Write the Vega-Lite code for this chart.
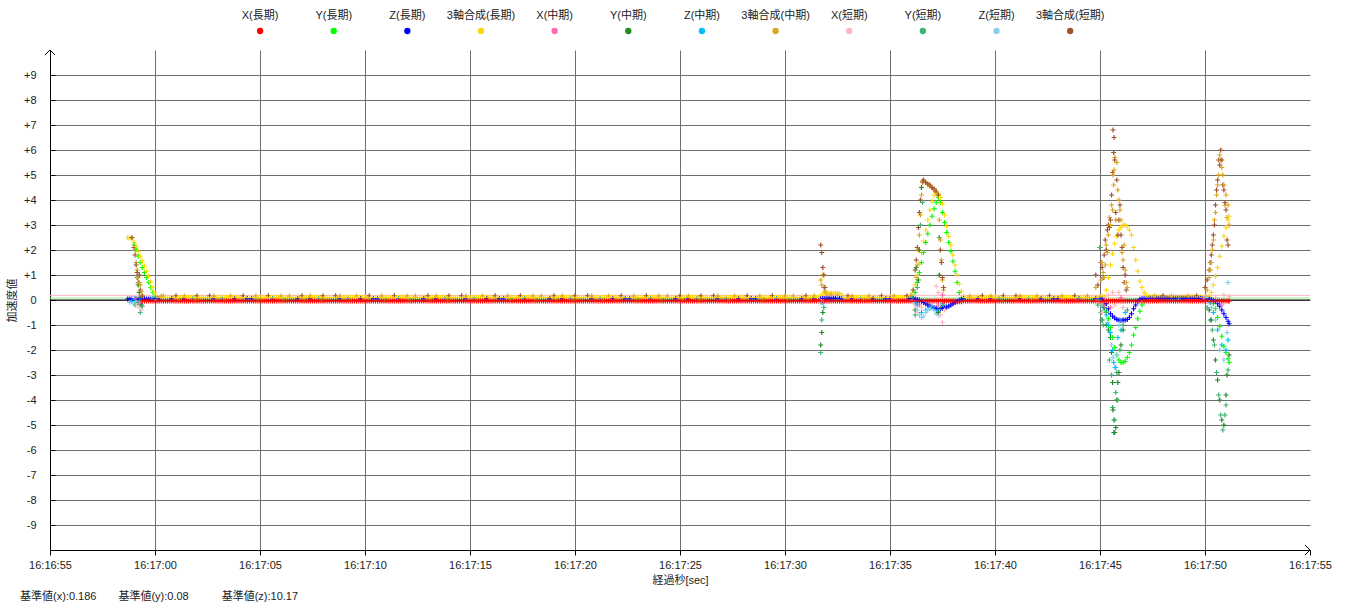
{
"$schema":"https://vega.github.io/schema/vega-lite/v6.json",
"autosize":{"type":"pad"},
"padding":{"left":6,"top":0,"right":10,"bottom":5},
"config":{"view":{"stroke":null},"font":"Liberation Sans, Noto Sans CJK JP","axis":{"labelFont":"Liberation Sans, Noto Sans CJK JP","titleFont":"Liberation Sans, Noto Sans CJK JP","labelOverlap":false},"title":{"font":"Liberation Sans, Noto Sans CJK JP"},"text":{"font":"Liberation Sans, Noto Sans CJK JP"}},
"spacing":0,
"bounds":"flush",
"center":true,
"title":{"text":"基準値(x):0.186　　基準値(y):0.08　　　基準値(z):10.17","orient":"bottom","anchor":"start","frame":"group","dx":-30,"offset":6,"fontSize":11,"fontWeight":"normal","color":"#222"},
"datasets":{
"leg":[
{"k":"a","name":"X(長期)"},
{"k":"b","name":"Y(長期)"},
{"k":"c","name":"Z(長期)"},
{"k":"d","name":"3軸合成(長期)"},
{"k":"e","name":"X(中期)"},
{"k":"f","name":"Y(中期)"},
{"k":"g","name":"Z(中期)"},
{"k":"h","name":"3軸合成(中期)"},
{"k":"i","name":"X(短期)"},
{"k":"j","name":"Y(短期)"},
{"k":"k","name":"Z(短期)"},
{"k":"l","name":"3軸合成(短期)"}
],
"pts":[
{"t":3.7,"c":0.04,"d":2.5},
{"t":3.8,"c":0.04,"d":2.48,"k":-0.1},
{"t":3.9,"c":0.04,"d":2.45,"l":2.5,"g":-0.05},
{"t":4.0,"b":2.2,"c":0.04,"d":2.3,"l":2.1,"k":-0.15,"i":0.1},
{"t":4.05,"l":1.8,"h":2.0,"g":0.05,"j":-0.2},
{"t":4.1,"b":2.0,"c":0.04,"d":2.15,"l":1.4,"h":1.5,"k":-0.05,"e":0.05},
{"t":4.15,"l":1.1,"h":1.2,"f":0.9,"i":-0.2},
{"t":4.2,"b":1.75,"c":0.04,"d":1.95,"l":0.7,"h":0.9,"f":0.6,"j":-0.1,"g":-0.1},
{"t":4.25,"l":1.0,"h":0.7,"f":0.3,"i":-0.3,"k":0.1},
{"t":4.3,"b":1.5,"c":0.04,"d":1.75,"l":0.4,"h":0.6,"j":-0.5,"f":0.1,"e":-0.15},
{"t":4.35,"h":0.35,"f":-0.2,"i":-0.4,"g":0.0},
{"t":4.4,"a":-0.04,"b":1.3,"c":0.04,"d":1.55,"h":0.2,"j":-0.25,"l":0.15},
{"t":4.5,"a":-0.04,"b":1.1,"c":0.04,"d":1.35},
{"t":4.6,"a":-0.04,"b":0.9,"c":0.04,"d":1.15},
{"t":4.7,"a":-0.04,"b":0.7,"c":0.04,"d":0.95},
{"t":4.8,"a":-0.04,"b":0.5,"c":0.04,"d":0.72},
{"t":4.9,"a":-0.04,"b":0.3,"c":0.04,"d":0.5,"g":0.05},
{"t":5.0,"a":-0.04,"b":0.1,"c":0.04,"d":0.3},
{"t":5.1,"a":-0.04,"b":0.02,"c":0.04,"d":0.12,"k":0.0},
{"t":5.2,"a":-0.04,"c":0.04,"d":0.1},
{"t":5.3,"a":-0.04,"d":0.1,"h":0.15},
{"t":5.4,"a":-0.04,"d":0.1,"h":0.16},{"t":5.5,"a":-0.04,"d":0.1},
{"t":5.6,"a":-0.04,"d":0.1},{"t":5.7,"a":-0.04,"d":0.1},
{"t":5.8,"a":-0.04,"d":0.11,"c":0.05},{"t":5.9,"a":-0.04,"d":0.1},
{"t":6,"a":-0.04,"d":0.1,"l":0.17},{"t":6.1,"a":-0.04,"d":0.1},
{"t":6.2,"a":-0.04,"d":0.09,"b":-0.01},{"t":6.3,"a":-0.04,"d":0.1},
{"t":6.4,"a":-0.04,"d":0.1,"h":0.16,"c":0.05},{"t":6.5,"a":-0.04,"d":0.1},
{"t":6.6,"a":-0.04,"d":0.1},{"t":6.7,"a":-0.04,"d":0.1},
{"t":6.8,"a":-0.04,"d":0.11,"g":0.05},{"t":6.9,"a":-0.04,"d":0.1},
{"t":7,"a":-0.04,"d":0.1,"l":0.17,"b":-0.01},{"t":7.1,"a":-0.04,"d":0.1},
{"t":7.2,"a":-0.04,"d":0.1},{"t":7.3,"a":-0.04,"d":0.1},
{"t":7.4,"a":-0.04,"d":0.1},{"t":7.5,"a":-0.04,"d":0.1},
{"t":7.6,"a":-0.04,"d":0.1,"l":0.17},{"t":7.7,"a":-0.04,"d":0.1},
{"t":7.8,"a":-0.04,"d":0.11,"c":0.05,"h":0.16},{"t":7.9,"a":-0.04,"d":0.1},
{"t":8,"a":-0.04,"d":0.1},{"t":8.1,"a":-0.04,"d":0.1},
{"t":8.2,"a":-0.04,"d":0.09,"g":0.05},{"t":8.3,"a":-0.04,"d":0.1},
{"t":8.4,"a":-0.04,"d":0.1,"b":-0.01},{"t":8.5,"a":-0.04,"d":0.1},
{"t":8.6,"a":-0.04,"d":0.1,"h":0.16},{"t":8.7,"a":-0.04,"d":0.1},
{"t":8.8,"a":-0.04,"d":0.11,"c":0.05},{"t":8.9,"a":-0.04,"d":0.1},
{"t":9,"a":-0.04,"d":0.1},{"t":9.1,"a":-0.04,"d":0.1},
{"t":9.2,"a":-0.04,"d":0.1,"l":0.17},{"t":9.3,"a":-0.04,"d":0.1},
{"t":9.4,"a":-0.04,"d":0.1,"c":0.05},{"t":9.5,"a":-0.04,"d":0.1},
{"t":9.6,"a":-0.04,"d":0.1,"c":0.05},{"t":9.7,"a":-0.04,"d":0.1},
{"t":9.8,"a":-0.04,"d":0.11,"h":0.16},{"t":9.9,"a":-0.04,"d":0.1},
{"t":10,"a":-0.04,"d":0.1,"b":-0.01},{"t":10.1,"a":-0.04,"d":0.1},
{"t":10.2,"a":-0.04,"d":0.09},{"t":10.3,"a":-0.04,"d":0.1},
{"t":10.4,"a":-0.04,"d":0.1,"l":0.17},{"t":10.5,"a":-0.04,"d":0.1},
{"t":10.6,"a":-0.04,"d":0.1,"g":0.05,"c":0.05},{"t":10.7,"a":-0.04,"d":0.1},
{"t":10.8,"a":-0.04,"d":0.11},{"t":10.9,"a":-0.04,"d":0.1},
{"t":11,"a":-0.04,"d":0.1,"h":0.16},{"t":11.1,"a":-0.04,"d":0.1},
{"t":11.2,"a":-0.04,"d":0.1,"b":-0.01},{"t":11.3,"a":-0.04,"d":0.1},
{"t":11.4,"a":-0.04,"d":0.1,"h":0.16},{"t":11.5,"a":-0.04,"d":0.1},
{"t":11.6,"a":-0.04,"d":0.1},{"t":11.7,"a":-0.04,"d":0.1},
{"t":11.8,"a":-0.04,"d":0.11,"c":0.05},{"t":11.9,"a":-0.04,"d":0.1},
{"t":12,"a":-0.04,"d":0.1,"l":0.17},{"t":12.1,"a":-0.04,"d":0.1},
{"t":12.2,"a":-0.04,"d":0.09,"b":-0.01},{"t":12.3,"a":-0.04,"d":0.1},
{"t":12.4,"a":-0.04,"d":0.1,"h":0.16,"c":0.05},{"t":12.5,"a":-0.04,"d":0.1},
{"t":12.6,"a":-0.04,"d":0.1},{"t":12.7,"a":-0.04,"d":0.1},
{"t":12.8,"a":-0.04,"d":0.11,"g":0.05},{"t":12.9,"a":-0.04,"d":0.1},
{"t":13,"a":-0.04,"d":0.1,"l":0.17,"b":-0.01},{"t":13.1,"a":-0.04,"d":0.1},
{"t":13.2,"a":-0.04,"d":0.1},{"t":13.3,"a":-0.04,"d":0.1},
{"t":13.4,"a":-0.04,"d":0.1},{"t":13.5,"a":-0.04,"d":0.1},
{"t":13.6,"a":-0.04,"d":0.1,"l":0.17},{"t":13.7,"a":-0.04,"d":0.1},
{"t":13.8,"a":-0.04,"d":0.11,"c":0.05,"h":0.16},{"t":13.9,"a":-0.04,"d":0.1},
{"t":14,"a":-0.04,"d":0.1},{"t":14.1,"a":-0.04,"d":0.1},
{"t":14.2,"a":-0.04,"d":0.09,"g":0.05},{"t":14.3,"a":-0.04,"d":0.1},
{"t":14.4,"a":-0.04,"d":0.1,"b":-0.01},{"t":14.5,"a":-0.04,"d":0.1},
{"t":14.6,"a":-0.04,"d":0.1,"h":0.16},{"t":14.7,"a":-0.04,"d":0.1},
{"t":14.8,"a":-0.04,"d":0.11,"c":0.05},{"t":14.9,"a":-0.04,"d":0.1},
{"t":15,"a":-0.04,"d":0.1},{"t":15.1,"a":-0.04,"d":0.1},
{"t":15.2,"a":-0.04,"d":0.1,"l":0.17},{"t":15.3,"a":-0.04,"d":0.1},
{"t":15.4,"a":-0.04,"d":0.1,"c":0.05},{"t":15.5,"a":-0.04,"d":0.1},
{"t":15.6,"a":-0.04,"d":0.1,"c":0.05},{"t":15.7,"a":-0.04,"d":0.1},
{"t":15.8,"a":-0.04,"d":0.11,"h":0.16},{"t":15.9,"a":-0.04,"d":0.1},
{"t":16,"a":-0.04,"d":0.1,"b":-0.01},{"t":16.1,"a":-0.04,"d":0.1},
{"t":16.2,"a":-0.04,"d":0.09},{"t":16.3,"a":-0.04,"d":0.1},
{"t":16.4,"a":-0.04,"d":0.1,"l":0.17},{"t":16.5,"a":-0.04,"d":0.1},
{"t":16.6,"a":-0.04,"d":0.1,"g":0.05,"c":0.05},{"t":16.7,"a":-0.04,"d":0.1},
{"t":16.8,"a":-0.04,"d":0.11},{"t":16.9,"a":-0.04,"d":0.1},
{"t":17,"a":-0.04,"d":0.1,"h":0.16},{"t":17.1,"a":-0.04,"d":0.1},
{"t":17.2,"a":-0.04,"d":0.1,"b":-0.01},{"t":17.3,"a":-0.04,"d":0.1},
{"t":17.4,"a":-0.04,"d":0.1,"h":0.16},{"t":17.5,"a":-0.04,"d":0.1},
{"t":17.6,"a":-0.04,"d":0.1},{"t":17.7,"a":-0.04,"d":0.1},
{"t":17.8,"a":-0.04,"d":0.11,"c":0.05},{"t":17.9,"a":-0.04,"d":0.1},
{"t":18,"a":-0.04,"d":0.1,"l":0.17},{"t":18.1,"a":-0.04,"d":0.1},
{"t":18.2,"a":-0.04,"d":0.09,"b":-0.01},{"t":18.3,"a":-0.04,"d":0.1},
{"t":18.4,"a":-0.04,"d":0.1,"h":0.16,"c":0.05},{"t":18.5,"a":-0.04,"d":0.1},
{"t":18.6,"a":-0.04,"d":0.1},{"t":18.7,"a":-0.04,"d":0.1},
{"t":18.8,"a":-0.04,"d":0.11,"g":0.05},{"t":18.9,"a":-0.04,"d":0.1},
{"t":19,"a":-0.04,"d":0.1,"l":0.17,"b":-0.01},{"t":19.1,"a":-0.04,"d":0.1},
{"t":19.2,"a":-0.04,"d":0.1},{"t":19.3,"a":-0.04,"d":0.1},
{"t":19.4,"a":-0.04,"d":0.1},{"t":19.5,"a":-0.04,"d":0.1},
{"t":19.6,"a":-0.04,"d":0.1,"l":0.17},{"t":19.7,"a":-0.04,"d":0.1},
{"t":19.8,"a":-0.04,"d":0.11,"c":0.05,"h":0.16},{"t":19.9,"a":-0.04,"d":0.1},
{"t":20,"a":-0.04,"d":0.1},{"t":20.1,"a":-0.04,"d":0.1},
{"t":20.2,"a":-0.04,"d":0.09,"g":0.05},{"t":20.3,"a":-0.04,"d":0.1},
{"t":20.4,"a":-0.04,"d":0.1,"b":-0.01},{"t":20.5,"a":-0.04,"d":0.1},
{"t":20.6,"a":-0.04,"d":0.1,"h":0.16},{"t":20.7,"a":-0.04,"d":0.1},
{"t":20.8,"a":-0.04,"d":0.11,"c":0.05},{"t":20.9,"a":-0.04,"d":0.1},
{"t":21,"a":-0.04,"d":0.1},{"t":21.1,"a":-0.04,"d":0.1},
{"t":21.2,"a":-0.04,"d":0.1,"l":0.17},{"t":21.3,"a":-0.04,"d":0.1},
{"t":21.4,"a":-0.04,"d":0.1,"c":0.05},{"t":21.5,"a":-0.04,"d":0.1},
{"t":21.6,"a":-0.04,"d":0.1,"c":0.05},{"t":21.7,"a":-0.04,"d":0.1},
{"t":21.8,"a":-0.04,"d":0.11,"h":0.16},{"t":21.9,"a":-0.04,"d":0.1},
{"t":22,"a":-0.04,"d":0.1,"b":-0.01},{"t":22.1,"a":-0.04,"d":0.1},
{"t":22.2,"a":-0.04,"d":0.09},{"t":22.3,"a":-0.04,"d":0.1},
{"t":22.4,"a":-0.04,"d":0.1,"l":0.17},{"t":22.5,"a":-0.04,"d":0.1},
{"t":22.6,"a":-0.04,"d":0.1,"g":0.05,"c":0.05},{"t":22.7,"a":-0.04,"d":0.1},
{"t":22.8,"a":-0.04,"d":0.11},{"t":22.9,"a":-0.04,"d":0.1},
{"t":23,"a":-0.04,"d":0.1,"h":0.16},{"t":23.1,"a":-0.04,"d":0.1},
{"t":23.2,"a":-0.04,"d":0.1,"b":-0.01},{"t":23.3,"a":-0.04,"d":0.1},
{"t":23.4,"a":-0.04,"d":0.1,"h":0.16},{"t":23.5,"a":-0.04,"d":0.1},
{"t":23.6,"a":-0.04,"d":0.1},{"t":23.7,"a":-0.04,"d":0.1},
{"t":23.8,"a":-0.04,"d":0.11,"c":0.05},{"t":23.9,"a":-0.04,"d":0.1},
{"t":24,"a":-0.04,"d":0.1,"l":0.17},{"t":24.1,"a":-0.04,"d":0.1},
{"t":24.2,"a":-0.04,"d":0.09,"b":-0.01},{"t":24.3,"a":-0.04,"d":0.1},
{"t":24.4,"a":-0.04,"d":0.1,"h":0.16,"c":0.05},{"t":24.5,"a":-0.04,"d":0.1},
{"t":24.6,"a":-0.04,"d":0.1},{"t":24.7,"a":-0.04,"d":0.1},
{"t":24.8,"a":-0.04,"d":0.11,"g":0.05},{"t":24.9,"a":-0.04,"d":0.1},
{"t":25,"a":-0.04,"d":0.1,"l":0.17,"b":-0.01},{"t":25.1,"a":-0.04,"d":0.1},
{"t":25.2,"a":-0.04,"d":0.1},{"t":25.3,"a":-0.04,"d":0.1},
{"t":25.4,"a":-0.04,"d":0.1},{"t":25.5,"a":-0.04,"d":0.1},
{"t":25.6,"a":-0.04,"d":0.1,"l":0.17},{"t":25.7,"a":-0.04,"d":0.1},
{"t":25.8,"a":-0.04,"d":0.11,"c":0.05,"h":0.16},{"t":25.9,"a":-0.04,"d":0.1},
{"t":26,"a":-0.04,"d":0.1},{"t":26.1,"a":-0.04,"d":0.1},
{"t":26.2,"a":-0.04,"d":0.09,"g":0.05},{"t":26.3,"a":-0.04,"d":0.1},
{"t":26.4,"a":-0.04,"d":0.1,"b":-0.01},{"t":26.5,"a":-0.04,"d":0.1},
{"t":26.6,"a":-0.04,"d":0.1,"h":0.16},{"t":26.7,"a":-0.04,"d":0.1},
{"t":26.8,"a":-0.04,"d":0.11,"c":0.05},{"t":26.9,"a":-0.04,"d":0.1},
{"t":27,"a":-0.04,"d":0.1},{"t":27.1,"a":-0.04,"d":0.1},
{"t":27.2,"a":-0.04,"d":0.1,"l":0.17},{"t":27.3,"a":-0.04,"d":0.1},
{"t":27.4,"a":-0.04,"d":0.1,"c":0.05},{"t":27.5,"a":-0.04,"d":0.1},
{"t":27.6,"a":-0.04,"d":0.1,"c":0.05},{"t":27.7,"a":-0.04,"d":0.1},
{"t":27.8,"a":-0.04,"d":0.11,"h":0.16},{"t":27.9,"a":-0.04,"d":0.1},
{"t":28,"a":-0.04,"d":0.1,"b":-0.01},{"t":28.1,"a":-0.04,"d":0.1},
{"t":28.2,"a":-0.04,"d":0.09},{"t":28.3,"a":-0.04,"d":0.1},
{"t":28.4,"a":-0.04,"d":0.1,"l":0.17},{"t":28.5,"a":-0.04,"d":0.1},
{"t":28.6,"a":-0.04,"d":0.1,"g":0.05,"c":0.05},{"t":28.7,"a":-0.04,"d":0.1},
{"t":28.8,"a":-0.04,"d":0.11},{"t":28.9,"a":-0.04,"d":0.1},
{"t":29,"a":-0.04,"d":0.1,"h":0.16},{"t":29.1,"a":-0.04,"d":0.1},
{"t":29.2,"a":-0.04,"d":0.1,"b":-0.01},{"t":29.3,"a":-0.04,"d":0.1},
{"t":29.4,"a":-0.04,"d":0.1,"h":0.16},{"t":29.5,"a":-0.04,"d":0.1},
{"t":29.6,"a":-0.04,"d":0.1},{"t":29.7,"a":-0.04,"d":0.1},
{"t":29.8,"a":-0.04,"d":0.11,"c":0.05},{"t":29.9,"a":-0.04,"d":0.1},
{"t":30,"a":-0.04,"d":0.1,"l":0.17},{"t":30.1,"a":-0.04,"d":0.1},
{"t":30.2,"a":-0.04,"d":0.09,"b":-0.01},{"t":30.3,"a":-0.04,"d":0.1},
{"t":30.4,"a":-0.04,"d":0.1,"h":0.16,"c":0.05},{"t":30.5,"a":-0.04,"d":0.1},
{"t":30.6,"a":-0.04,"d":0.1},{"t":30.7,"a":-0.04,"d":0.1},
{"t":30.8,"a":-0.04,"d":0.11,"g":0.05},{"t":30.9,"a":-0.04,"d":0.1},
{"t":31,"a":-0.04,"d":0.1,"l":0.17,"b":-0.01},{"t":31.1,"a":-0.04,"d":0.1},
{"t":31.2,"a":-0.04,"d":0.1},{"t":31.3,"a":-0.04,"d":0.1},
{"t":31.4,"a":-0.04,"d":0.1},{"t":31.5,"a":-0.04,"d":0.1},
{"t":31.6,"a":-0.04,"d":0.1,"l":0.17},{"t":31.7,"a":-0.04,"d":0.1},
{"t":31.8,"a":-0.04,"d":0.11,"c":0.05,"h":0.16},{"t":31.9,"a":-0.04,"d":0.1},
{"t":32,"a":-0.04,"d":0.1},{"t":32.1,"a":-0.04,"d":0.1},
{"t":32.2,"a":-0.04,"d":0.09,"g":0.05},{"t":32.3,"a":-0.04,"d":0.1},
{"t":32.4,"a":-0.04,"d":0.1,"b":-0.01},{"t":32.5,"a":-0.04,"d":0.1},
{"t":32.6,"a":-0.04,"d":0.1,"h":0.16},{"t":32.7,"a":-0.04,"d":0.1},
{"t":32.8,"a":-0.04,"d":0.11,"c":0.05},{"t":32.9,"a":-0.04,"d":0.1},
{"t":33,"a":-0.04,"d":0.1},{"t":33.1,"a":-0.04,"d":0.1},
{"t":33.2,"a":-0.04,"d":0.1,"l":0.17},{"t":33.3,"a":-0.04,"d":0.1},
{"t":33.4,"a":-0.04,"d":0.1,"c":0.05},{"t":33.5,"a":-0.04,"d":0.1},
{"t":33.6,"a":-0.04,"d":0.1,"c":0.05},{"t":33.7,"a":-0.04,"d":0.1},
{"t":33.8,"a":-0.04,"d":0.11,"h":0.16},{"t":33.9,"a":-0.04,"d":0.1},
{"t":34,"a":-0.04,"d":0.1,"b":-0.01},{"t":34.1,"a":-0.04,"d":0.1},
{"t":34.2,"a":-0.04,"d":0.09},{"t":34.3,"a":-0.04,"d":0.1},
{"t":34.4,"a":-0.04,"d":0.1,"l":0.17},{"t":34.5,"a":-0.04,"d":0.1},
{"t":34.6,"a":-0.04,"d":0.1,"g":0.05,"c":0.05},{"t":34.7,"a":-0.04,"d":0.1},
{"t":34.8,"a":-0.04,"d":0.11},{"t":34.9,"a":-0.04,"d":0.1},
{"t":35,"a":-0.04,"d":0.1,"h":0.16},{"t":35.1,"a":-0.04,"d":0.1},
{"t":35.2,"a":-0.04,"d":0.1,"b":-0.01},{"t":35.3,"a":-0.04,"d":0.1},
{"t":35.4,"a":-0.04,"d":0.1,"h":0.16},{"t":35.5,"a":-0.04,"d":0.1},
{"t":35.6,"a":-0.04,"d":0.1},{"t":35.7,"a":-0.04,"d":0.1},
{"t":35.8,"a":-0.04,"d":0.11,"c":0.05},{"t":35.9,"a":-0.04,"d":0.1},
{"t":36,"a":-0.04,"d":0.1,"l":0.17},{"t":36.1,"a":-0.04,"d":0.1},
{"t":36.2,"a":-0.04,"d":0.09,"b":-0.01},{"t":36.3,"a":-0.04,"d":0.1},
{"t":36.4,"a":-0.04,"d":0.1,"h":0.16,"c":0.05},{"t":36.5,"a":-0.04,"d":0.1},
{"t":36.6,"a":-0.04,"d":0.1},
{"t":36.7,"a":-0.04,"d":0.15,"l":2.2,"h":0.8,"f":-1.8,"j":-2.1,"c":0.05,"k":-0.1},
{"t":36.75,"l":1.9,"h":0.6,"f":-1.3,"j":-0.8,"i":0.05},
{"t":36.8,"a":-0.04,"d":0.25,"l":1.3,"h":1.0,"f":-0.5,"g":-0.1,"c":0.06},
{"t":36.85,"l":1.0,"h":0.5,"j":-0.3,"e":-0.05},
{"t":36.9,"a":-0.04,"d":0.28,"l":0.5,"h":0.35,"c":0.06},
{"t":37.0,"a":-0.04,"d":0.28,"h":0.25,"c":0.07},
{"t":37.1,"a":-0.04,"d":0.27,"c":0.07},
{"t":37.2,"a":-0.04,"d":0.28,"h":0.22,"c":0.07},
{"t":37.3,"a":-0.04,"d":0.27,"c":0.07},
{"t":37.4,"a":-0.04,"d":0.28,"c":0.07},
{"t":37.5,"a":-0.04,"d":0.27,"c":0.07,"h":0.2},
{"t":37.6,"a":-0.04,"d":0.26,"c":0.07},
{"t":37.7,"a":-0.04,"d":0.2,"c":0.05},
{"t":37.8,"a":-0.04,"d":0.1},{"t":37.9,"a":-0.04,"d":0.1},
{"t":38,"a":-0.04,"d":0.1,"l":0.17},{"t":38.1,"a":-0.04,"d":0.1},
{"t":38.2,"a":-0.04,"d":0.11,"c":0.05,"h":0.16},{"t":38.3,"a":-0.04,"d":0.1},
{"t":38.4,"a":-0.04,"d":0.1},{"t":38.5,"a":-0.04,"d":0.1},
{"t":38.6,"a":-0.04,"d":0.09,"g":0.05},{"t":38.7,"a":-0.04,"d":0.1},
{"t":38.8,"a":-0.04,"d":0.1,"b":-0.01},{"t":38.9,"a":-0.04,"d":0.1},
{"t":39,"a":-0.04,"d":0.1,"h":0.16},{"t":39.1,"a":-0.04,"d":0.1},
{"t":39.2,"a":-0.04,"d":0.11,"c":0.05},{"t":39.3,"a":-0.04,"d":0.1},
{"t":39.4,"a":-0.04,"d":0.1},{"t":39.5,"a":-0.04,"d":0.1},
{"t":39.6,"a":-0.04,"d":0.1,"l":0.17},{"t":39.7,"a":-0.04,"d":0.1},
{"t":39.8,"a":-0.04,"d":0.1,"c":0.05},{"t":39.9,"a":-0.04,"d":0.1},
{"t":40,"a":-0.04,"d":0.1,"c":0.05},{"t":40.1,"a":-0.04,"d":0.1},
{"t":40.2,"a":-0.04,"d":0.11,"h":0.16},{"t":40.3,"a":-0.04,"d":0.1},
{"t":40.4,"a":-0.04,"d":0.1,"b":-0.01},{"t":40.5,"a":-0.04,"d":0.1},
{"t":40.6,"a":-0.04,"d":0.09},{"t":40.7,"a":-0.04,"d":0.1},
{"t":40.8,"a":-0.04,"d":0.1,"l":0.17},
{"t":40.9,"a":-0.04,"d":0.1,"c":0.05},
{"t":41.0,"a":-0.04,"d":0.12,"c":0.05,"h":0.2},
{"t":41.1,"a":-0.04,"d":0.3,"c":0.05,"b":0.1,"l":0.4,"k":0.0},
{"t":41.2,"a":-0.04,"d":0.6,"c":0.04,"b":0.3,"l":1.2,"f":-0.4,"j":-0.6,"k":-0.1,"i":-0.2},
{"t":41.25,"l":1.6,"h":0.9,"f":1.3,"g":-0.1},
{"t":41.3,"a":-0.04,"d":1.0,"c":0.02,"b":0.7,"l":2.1,"h":1.4,"j":0.5,"k":-0.4,"g":-0.2,"i":-0.5},
{"t":41.35,"l":2.9,"h":2.0,"f":0.8},
{"t":41.4,"a":-0.04,"d":1.45,"c":0.0,"b":1.1,"l":3.5,"h":2.6,"k":-0.6,"e":-0.2,"f":2.0},
{"t":41.45,"l":4.0,"h":3.4,"j":3.0},
{"t":41.5,"a":-0.04,"d":1.9,"c":-0.05,"b":1.5,"l":4.5,"h":4.2,"k":-0.7,"g":-0.5,"i":-0.3,"f":4.5},
{"t":41.55,"l":4.75,"h":4.7,"j":3.9},
{"t":41.6,"a":-0.04,"d":2.35,"c":-0.1,"b":1.9,"l":4.8,"h":4.75,"k":-0.65},
{"t":41.7,"a":-0.04,"d":2.8,"c":-0.15,"b":2.3,"l":4.7,"h":4.7,"k":-0.5,"g":-0.4},
{"t":41.8,"a":-0.04,"d":3.2,"c":-0.2,"b":2.65,"l":4.65,"h":4.6,"k":-0.4},
{"t":41.9,"a":-0.04,"d":3.6,"c":-0.24,"b":3.0,"l":4.6,"h":4.55,"k":-0.35,"g":-0.3},
{"t":42.0,"a":-0.04,"d":3.95,"c":-0.28,"b":3.35,"l":4.5,"h":4.5,"k":-0.3},
{"t":42.1,"a":-0.04,"d":4.2,"c":-0.31,"b":3.65,"l":4.45,"h":4.4,"k":-0.4,"g":-0.35},
{"t":42.2,"a":-0.04,"d":4.3,"c":-0.33,"b":3.9,"l":4.35,"h":4.3,"k":-0.55,"i":0.55},
{"t":42.3,"a":-0.04,"d":4.25,"c":-0.35,"b":4.1,"l":4.2,"h":4.2,"k":-0.6,"g":-0.45,"f":-0.5,"i":0.3,"e":-0.2},
{"t":42.35,"l":2.5,"h":3.2,"f":1.0,"j":2.5},
{"t":42.4,"a":-0.04,"d":4.1,"c":-0.35,"b":3.9,"l":2.0,"h":2.4,"k":-0.3,"i":-0.6},
{"t":42.45,"l":1.5,"h":1.6,"f":-0.3},
{"t":42.5,"a":-0.04,"d":3.85,"c":-0.34,"b":3.5,"l":0.9,"h":0.8,"k":-0.1,"g":-0.15,"i":-0.9,"e":0.2},
{"t":42.55,"h":0.4,"l":0.5,"j":-0.2},
{"t":42.6,"a":-0.04,"d":3.4,"c":-0.32,"b":3.1,"i":-0.4},
{"t":42.7,"a":-0.04,"d":2.95,"c":-0.28,"b":2.7},
{"t":42.8,"a":-0.04,"d":2.55,"c":-0.25,"b":2.3},
{"t":42.9,"a":-0.04,"d":2.2,"c":-0.2,"b":1.95},
{"t":43.0,"a":-0.04,"d":1.8,"c":-0.15,"b":1.55},
{"t":43.1,"a":-0.04,"d":1.4,"c":-0.1,"b":1.15},
{"t":43.2,"a":-0.07,"d":1.0,"c":-0.05,"b":0.7},
{"t":43.3,"a":-0.07,"d":0.65,"c":0.0,"b":0.3},
{"t":43.4,"a":-0.07,"d":0.35,"c":0.03,"b":0.05},
{"t":43.5,"a":-0.04,"d":0.15,"c":0.05},
{"t":43.6,"a":-0.04,"d":0.1},{"t":43.7,"a":-0.04,"d":0.1},
{"t":43.8,"a":-0.04,"d":0.1,"h":0.16},{"t":43.9,"a":-0.04,"d":0.1},
{"t":44,"a":-0.04,"d":0.1},{"t":44.1,"a":-0.04,"d":0.1},
{"t":44.2,"a":-0.04,"d":0.11,"c":0.05},{"t":44.3,"a":-0.04,"d":0.1},
{"t":44.4,"a":-0.04,"d":0.1,"l":0.17},{"t":44.5,"a":-0.04,"d":0.1},
{"t":44.6,"a":-0.04,"d":0.09,"b":-0.01},{"t":44.7,"a":-0.04,"d":0.1},
{"t":44.8,"a":-0.04,"d":0.1,"h":0.16,"c":0.05},{"t":44.9,"a":-0.04,"d":0.1},
{"t":45,"a":-0.04,"d":0.1},{"t":45.1,"a":-0.04,"d":0.1},
{"t":45.2,"a":-0.04,"d":0.11,"g":0.05},{"t":45.3,"a":-0.04,"d":0.1},
{"t":45.4,"a":-0.04,"d":0.1,"l":0.17,"b":-0.01},{"t":45.5,"a":-0.04,"d":0.1},
{"t":45.6,"a":-0.04,"d":0.1},{"t":45.7,"a":-0.04,"d":0.1},
{"t":45.8,"a":-0.04,"d":0.1},{"t":45.9,"a":-0.04,"d":0.1},
{"t":46,"a":-0.04,"d":0.1,"l":0.17},{"t":46.1,"a":-0.04,"d":0.1},
{"t":46.2,"a":-0.04,"d":0.11,"c":0.05,"h":0.16},{"t":46.3,"a":-0.04,"d":0.1},
{"t":46.4,"a":-0.04,"d":0.1},{"t":46.5,"a":-0.04,"d":0.1},
{"t":46.6,"a":-0.04,"d":0.09,"g":0.05},{"t":46.7,"a":-0.04,"d":0.1},
{"t":46.8,"a":-0.04,"d":0.1,"b":-0.01},{"t":46.9,"a":-0.04,"d":0.1},
{"t":47,"a":-0.04,"d":0.1,"h":0.16},{"t":47.1,"a":-0.04,"d":0.1},
{"t":47.2,"a":-0.04,"d":0.11,"c":0.05},{"t":47.3,"a":-0.04,"d":0.1},
{"t":47.4,"a":-0.04,"d":0.1},{"t":47.5,"a":-0.04,"d":0.1},
{"t":47.6,"a":-0.04,"d":0.1,"l":0.17},{"t":47.7,"a":-0.04,"d":0.1},
{"t":47.8,"a":-0.04,"d":0.1,"c":0.05},{"t":47.9,"a":-0.04,"d":0.1},
{"t":48,"a":-0.04,"d":0.1,"c":0.05},{"t":48.1,"a":-0.04,"d":0.1},
{"t":48.2,"a":-0.04,"d":0.11,"h":0.16},{"t":48.3,"a":-0.04,"d":0.1},
{"t":48.4,"a":-0.04,"d":0.1,"b":-0.01},{"t":48.5,"a":-0.04,"d":0.1},
{"t":48.6,"a":-0.04,"d":0.09},{"t":48.7,"a":-0.04,"d":0.1},
{"t":48.8,"a":-0.04,"d":0.1,"l":0.17},{"t":48.9,"a":-0.04,"d":0.1},
{"t":49,"a":-0.04,"d":0.1,"g":0.05,"c":0.05},{"t":49.1,"a":-0.04,"d":0.1},
{"t":49.2,"a":-0.04,"d":0.11},{"t":49.3,"a":-0.04,"d":0.1},
{"t":49.4,"a":-0.04,"d":0.1,"h":0.16},{"t":49.5,"a":-0.04,"d":0.1},
{"t":49.6,"a":-0.04,"d":0.1,"b":-0.01},{"t":49.7,"a":-0.04,"d":0.1},
{"t":49.8,"a":-0.04,"d":0.1,"c":0.05,"l":1.0,"h":0.5},
{"t":49.9,"a":-0.04,"d":0.1,"l":0.6,"j":-0.2,"i":0.0},
{"t":50.0,"a":-0.04,"d":0.12,"c":0.05,"l":2.1,"j":2.1,"i":-0.1,"g":0.0},
{"t":50.05,"l":1.5,"h":0.8,"f":-0.5},
{"t":50.1,"a":-0.04,"d":0.13,"c":0.04,"b":0.0,"l":1.3,"h":1.5,"f":-0.8,"j":-0.8,"i":-0.5,"k":-0.2},
{"t":50.15,"l":0.9,"h":1.1,"j":-1.0,"g":-0.3},
{"t":50.2,"a":-0.04,"d":0.15,"c":0.0,"b":-0.2,"l":1.8,"h":0.9,"f":-0.3,"k":-0.4,"e":-0.2},
{"t":50.25,"l":2.4,"h":1.4,"i":0.1},
{"t":50.3,"a":-0.04,"d":0.4,"c":-0.15,"b":-0.45,"l":2.0,"h":2.2,"f":-1.0,"g":-0.6,"j":-0.5},
{"t":50.35,"l":2.8,"h":1.9,"k":-0.9},
{"t":50.4,"a":-0.04,"d":0.9,"c":-0.35,"b":-0.75,"l":3.0,"h":2.6,"f":-1.2,"g":-1.0,"i":0.2},
{"t":50.45,"l":2.9,"h":3.3,"j":-2.4,"k":-1.3},
{"t":50.5,"a":-0.04,"d":1.4,"c":-0.55,"b":-1.1,"l":3.2,"h":3.0,"f":-1.5,"g":-1.3,"e":-0.3},
{"t":50.55,"l":4.2,"h":3.8,"j":-3.0,"k":-1.8,"f":-2.1},
{"t":50.6,"a":-0.04,"d":1.85,"c":-0.65,"b":-1.5,"l":5.1,"h":3.6,"f":-3.3,"g":-2.0,"i":0.3,"j":-4.3},
{"t":50.62,"l":6.8,"h":5.0,"f":-4.4,"k":-2.3},
{"t":50.65,"l":5.9,"h":4.6,"j":-5.3,"g":-2.5},
{"t":50.67,"l":6.5,"h":5.2,"f":-4.8},
{"t":50.7,"a":-0.04,"d":2.25,"c":-0.72,"b":-1.9,"l":5.6,"h":5.7,"f":-5.3,"k":-2.7,"j":-4.8,"i":-0.2},
{"t":50.75,"l":3.5,"h":3.2,"f":-5.1,"g":-2.7,"j":-3.7},
{"t":50.8,"a":-0.04,"d":2.55,"c":-0.78,"b":-2.2,"l":4.8,"h":5.5,"f":-4.0,"k":-2.2,"j":-2.9},
{"t":50.85,"l":2.6,"h":4.4,"f":-3.3,"g":-1.5,"j":-4.0},
{"t":50.9,"a":-0.04,"d":2.8,"c":-0.8,"b":-2.4,"l":3.2,"h":4.0,"f":-2.9,"k":-1.0,"i":0.3},
{"t":50.95,"l":3.8,"h":3.6,"j":-2.0},
{"t":51.0,"a":-0.04,"d":2.9,"c":-0.82,"b":-2.5,"l":2.6,"h":3.2,"f":-1.8,"g":-1.2,"e":0.1},
{"t":51.05,"l":2.1,"h":1.9,"k":-0.8},
{"t":51.1,"a":-0.04,"d":3.0,"c":-0.8,"b":-2.5,"l":1.3,"h":1.6,"f":-1.2,"j":-1.0,"i":-0.3},
{"t":51.15,"l":0.7,"h":2.2},
{"t":51.2,"a":-0.04,"d":3.0,"c":-0.8,"b":-2.45,"l":1.0,"h":1.2,"g":-0.5},
{"t":51.25,"h":0.7,"l":0.4},
{"t":51.3,"a":-0.04,"d":2.95,"c":-0.78,"b":-2.3,"h":0.5,"j":-0.4},
{"t":51.4,"a":-0.04,"d":2.8,"c":-0.7,"b":-2.1},
{"t":51.5,"a":-0.04,"d":2.6,"c":-0.55,"b":-1.8},
{"t":51.6,"a":-0.04,"d":2.1,"c":-0.35,"b":-1.4},
{"t":51.7,"a":-0.04,"d":1.6,"c":-0.2,"b":-1.1},
{"t":51.8,"a":-0.04,"d":1.15,"c":-0.05,"b":-0.75},
{"t":51.9,"a":-0.04,"d":0.75,"c":0.03,"b":-0.45},
{"t":52.0,"a":-0.04,"d":0.5,"c":0.05,"b":-0.2},
{"t":52.1,"a":-0.04,"d":0.3,"c":0.05,"b":-0.05},
{"t":52.2,"a":-0.04,"d":0.2,"c":0.05},
{"t":52.3,"a":-0.04,"d":0.12,"c":0.05},
{"t":52.4,"a":-0.04,"d":0.12,"c":0.07},{"t":52.5,"a":-0.04,"d":0.12,"c":0.07},
{"t":52.6,"a":-0.04,"d":0.12,"c":0.07,"h":0.16},{"t":52.7,"a":-0.04,"d":0.12,"c":0.07},
{"t":52.8,"a":-0.04,"d":0.12,"c":0.07},{"t":52.9,"a":-0.04,"d":0.12,"c":0.07},
{"t":53,"a":-0.04,"d":0.12,"c":0.07,"l":0.17},{"t":53.1,"a":-0.04,"d":0.12,"c":0.07},
{"t":53.2,"a":-0.04,"d":0.12,"c":0.07},{"t":53.3,"a":-0.04,"d":0.12,"c":0.07},
{"t":53.4,"a":-0.04,"d":0.12,"c":0.07,"h":0.16},{"t":53.5,"a":-0.04,"d":0.12,"c":0.07},
{"t":53.6,"a":-0.04,"d":0.12,"c":0.07},{"t":53.7,"a":-0.04,"d":0.12,"c":0.07},
{"t":53.8,"a":-0.04,"d":0.12,"c":0.07,"g":0.05},{"t":53.9,"a":-0.04,"d":0.12,"c":0.07},
{"t":54,"a":-0.04,"d":0.12,"c":0.07},{"t":54.1,"a":-0.04,"d":0.12,"c":0.07},
{"t":54.2,"a":-0.04,"d":0.12,"c":0.07,"h":0.16},{"t":54.3,"a":-0.04,"d":0.12,"c":0.07},
{"t":54.4,"a":-0.04,"d":0.12,"c":0.07},{"t":54.5,"a":-0.04,"d":0.12,"c":0.07},
{"t":54.6,"a":-0.04,"d":0.12,"c":0.07,"l":0.17},{"t":54.7,"a":-0.04,"d":0.12,"c":0.07},
{"t":54.8,"a":-0.04,"d":0.12,"c":0.07},
{"t":54.9,"a":-0.04,"d":0.1,"c":0.05},
{"t":55.0,"a":-0.04,"d":0.12,"c":0.05,"l":0.5,"i":0.05},
{"t":55.1,"a":-0.04,"d":0.12,"c":0.05,"l":0.8,"h":0.4,"j":-0.3,"k":0.1},
{"t":55.2,"a":-0.04,"d":0.15,"c":0.03,"h":0.9,"l":1.2,"f":-0.4,"i":-0.1},
{"t":55.25,"l":1.5,"h":1.2,"j":-0.8,"g":-0.1},
{"t":55.3,"a":-0.04,"d":0.3,"c":0.02,"b":-0.02,"l":1.8,"h":1.5,"f":-0.8,"k":-0.3},
{"t":55.35,"l":2.2,"h":2.0,"j":-1.2},
{"t":55.4,"a":-0.04,"d":0.6,"c":0.0,"b":-0.15,"l":2.6,"h":2.4,"f":-1.6,"g":-0.5,"e":-0.1},
{"t":55.45,"l":3.0,"h":3.2,"j":-1.8},
{"t":55.5,"a":-0.04,"d":0.95,"c":-0.05,"b":-0.35,"l":3.8,"h":3.5,"f":-2.4,"k":-0.8,"i":0.1},
{"t":55.55,"l":4.4,"h":4.2,"j":-2.9},
{"t":55.6,"a":-0.04,"d":1.3,"c":-0.15,"b":-0.7,"l":4.8,"h":4.6,"f":-3.2,"g":-1.2},
{"t":55.65,"l":5.6,"h":5.0,"j":-3.8},
{"t":55.7,"a":-0.04,"d":1.75,"c":-0.25,"b":-1.05,"l":5.4,"h":5.8,"f":-4.0,"k":-2.0},
{"t":55.75,"l":6.0,"h":5.6,"j":-4.6},
{"t":55.8,"a":-0.04,"d":2.15,"c":-0.4,"b":-1.45,"l":5.6,"h":5.3,"f":-4.8,"g":-1.8,"e":-0.2},
{"t":55.85,"l":4.6,"h":5.0,"j":-5.2},
{"t":55.9,"a":-0.04,"d":2.55,"c":-0.55,"b":-1.85,"l":4.4,"h":4.6,"f":-5.0,"k":-2.4,"i":0.2},
{"t":55.95,"l":3.9,"h":3.8,"j":-4.6},
{"t":56.0,"a":-0.04,"d":2.9,"c":-0.7,"b":-2.1,"l":3.6,"h":4.2,"f":-3.8,"g":-2.0,"j":-4.2},
{"t":56.05,"l":2.4,"h":3.3,"k":-1.3,"f":-3.0},
{"t":56.1,"a":-0.04,"d":3.2,"c":-0.85,"b":-2.35,"l":2.2,"h":3.8,"j":-2.8,"k":0.7,"g":-1.6},
{"t":56.15,"a":-0.04,"d":3.35,"c":-0.95,"b":-2.5,"h":3.0,"f":-2.2,"i":0.15}
]
},
"vconcat":[
{
"width":1031,"height":50,
"data":{"name":"leg"},
"layer":[
{"mark":{"type":"text","fontSize":11,"color":"#222","baseline":"middle","align":"center"},
 "encoding":{
  "x":{"field":"name","type":"nominal","sort":null,"scale":{"type":"band","paddingInner":0,"paddingOuter":1,"align":0.399},"axis":null},
  "y":{"datum":6.8,"type":"quantitative","scale":{"domain":[0,10],"nice":false},"axis":null},
  "text":{"field":"name"}}},
{"mark":{"type":"point","filled":true,"size":40,"opacity":1},
 "encoding":{
  "x":{"field":"name","type":"nominal","sort":null,"axis":null},
  "y":{"datum":3.8,"type":"quantitative","axis":null},
  "color":{"field":"k","type":"nominal","scale":{"domain":["a","b","c","d","e","f","g","h","i","j","k","l"],"range":["#ff0000","#00ff00","#0000ff","#ffd700","#ff69b4","#228b22","#00bfff","#daa520","#ffb6c1","#3cb371","#87ceeb","#a0522d"]},"legend":null}}}
]
},
{
"width":1260,"height":500,
"encoding":{
 "y":{"field":"v","type":"quantitative","scale":{"domain":[-10,10],"nice":false},
  "axis":{"values":[-9,-8,-7,-6,-5,-4,-3,-2,-1,0,1,2,3,4,5,6,7,8,9],"labelExpr":"datum.value > 0 ? '+' + datum.value : '' + datum.value","title":"加速度値","titleFontSize":11,"titleFontWeight":"normal","titleColor":"#222","titleX":-38,"titleY":250,"titleAngle":-90,"titleBaseline":"middle","titleAlign":"center","labelFontSize":11,"labelColor":"#222","labelPadding":19,"tickSize":-5,"tickColor":"#000","domainColor":"#000","grid":true,"gridColor":"#6e6e6e","labelOverlap":false,"labelBound":false,"labelSeparation":0}}
},
"layer":[
{"data":{"values":[{"v":0.186}]},"mark":{"type":"rule","color":"#ffb6c1","strokeWidth":1}},
{"data":{"values":[{"v":0.08}]},"mark":{"type":"rule","color":"#90ee90","strokeWidth":1}},
{"data":{"values":[{"v":0}]},"mark":{"type":"rule","color":"#000000","strokeWidth":1}},
{"data":{"name":"pts"},
 "transform":[{"fold":["d","b","c","h","l","g","k","f","j","e","i","a"],"as":["series","v"]},{"filter":"isValid(datum.v)"}],
 "mark":{"type":"point","shape":"M-1,0L1,0M0,-1L0,1","filled":false,"size":25,"strokeWidth":1.2,"opacity":1},
 "encoding":{
  "x":{"field":"t","type":"quantitative","scale":{"domain":[0,60],"nice":false,"zero":false},
   "axis":{"values":[0,5,10,15,20,25,30,35,40,45,50,55,60],"labelExpr":"datum.value < 5 ? '16:16:55' : '16:17:' + format(datum.value - 5, '02d')","title":"経過秒[sec]","titleFontSize":11,"titleFontWeight":"normal","titleColor":"#222","titleY":30,"titleBaseline":"middle","labelFontSize":11,"labelColor":"#222","labelPadding":4,"tickSize":5,"tickColor":"#000","domainColor":"#000","grid":true,"gridColor":"#6e6e6e","gridOpacity":{"condition":{"test":"datum.value == 0 || datum.value == 60","value":0},"value":1},"labelFlush":false,"labelOverlap":false}},
  "color":{"field":"series","type":"nominal","scale":{"domain":["a","b","c","d","e","f","g","h","i","j","k","l"],"range":["#ff0000","#00ff00","#0000ff","#ffd700","#ff69b4","#228b22","#00bfff","#daa520","#ffb6c1","#3cb371","#87ceeb","#a0522d"]},"legend":null}}},
{"data":{"values":[{"t":0,"v":10}]},"mark":{"type":"point","shape":"M-1,1L0,0L1,1","filled":false,"size":100,"color":"#000","strokeWidth":1,"opacity":1},"encoding":{"x":{"field":"t","type":"quantitative"}}},
{"data":{"values":[{"t":60,"v":-10}]},"mark":{"type":"point","shape":"M-1,-1L0,0L-1,1","filled":false,"size":100,"color":"#000","strokeWidth":1,"opacity":1},"encoding":{"x":{"field":"t","type":"quantitative"}}},
{"data":{"values":[{}]},"mark":{"type":"rule","color":"#add8e6","strokeWidth":1},"encoding":{"y":{"datum":10.2,"type":"quantitative","axis":{"values":[-9,-8,-7,-6,-5,-4,-3,-2,-1,0,1,2,3,4,5,6,7,8,9],"labelExpr":"datum.value > 0 ? '+' + datum.value : '' + datum.value","title":"加速度値","titleFontSize":11,"titleFontWeight":"normal","titleColor":"#222","titleX":-38,"titleY":250,"titleAngle":-90,"titleBaseline":"middle","titleAlign":"center","labelFontSize":11,"labelColor":"#222","labelPadding":19,"tickSize":-5,"tickColor":"#000","domainColor":"#000","grid":true,"gridColor":"#6e6e6e","labelOverlap":false,"labelBound":false,"labelSeparation":0}}}}
]
}
]
}
